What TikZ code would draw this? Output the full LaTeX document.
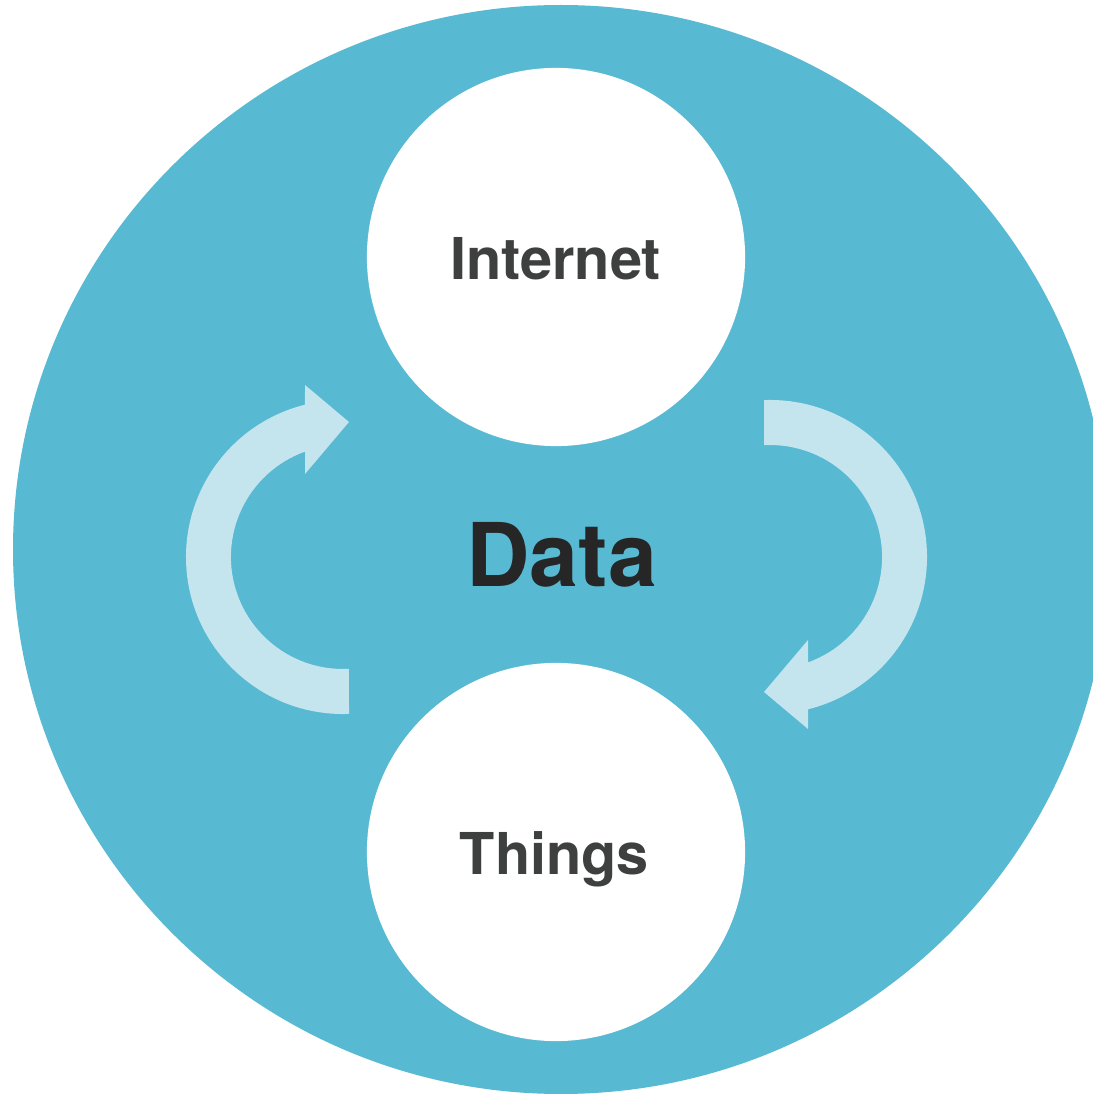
\documentclass[tikz,border=0pt]{standalone}
\usepackage{fontspec}
\setmainfont{TeX Gyre Heros}
\definecolor{bigblue}{HTML}{58B9D3}
\definecolor{arrowlight}{HTML}{C4E4EE}
\definecolor{txtgray}{HTML}{3E4040}
\definecolor{txtdark}{HTML}{262626}
\begin{document}
\begin{tikzpicture}[x=0.01cm,y=0.01cm,
  whitecirc/.style={circle, fill=white, draw=none, inner sep=0pt, minimum size=3.78cm},
  smalllbl/.style={anchor=base, inner sep=0pt, text=txtgray, font=\fontsize{16.4}{20}\selectfont\bfseries},
  biglbl/.style={anchor=base, inner sep=0pt, text=txtdark, font=\fontsize{25}{30}\selectfont\bfseries},
  cyclearrow/.style={fill=arrowlight, draw=none}]
\useasboundingbox (0,0) rectangle (1093,1099);
\clip (0,0) rectangle (1093,1099);
% big background disc
\fill[bigblue] (561,549.5) ellipse [x radius=548, y radius=544.5];
% white circles
\node[whitecirc] (internet) at (556,842) {};
\node[whitecirc] (things) at (556,247) {};
% texts
\node[smalllbl] (internetlbl) at (555.5,819) {Internet};
\node[smalllbl] (thingslbl) at (554.5,224) {Things};
\node[biglbl] (data) at (562,512) {Data};
% left curved arrow (upwards, pointing right)
\path[cyclearrow] (349,385.1) arc[start angle=272.2, end angle=104, radius=157]
  -- (305,714) -- (349,677) -- (305,625) -- (305,647.4)
  arc[start angle=109.8, end angle=273.1, radius=112] -- cycle;
% right curved arrow (downwards, pointing left)
\begin{scope}[rotate around={180:(556.5,542)}]
\path[cyclearrow] (349,385.1) arc[start angle=272.2, end angle=104, radius=157]
  -- (305,714) -- (349,677) -- (305,625) -- (305,647.4)
  arc[start angle=109.8, end angle=273.1, radius=112] -- cycle;
\end{scope}
\end{tikzpicture}
\end{document}
